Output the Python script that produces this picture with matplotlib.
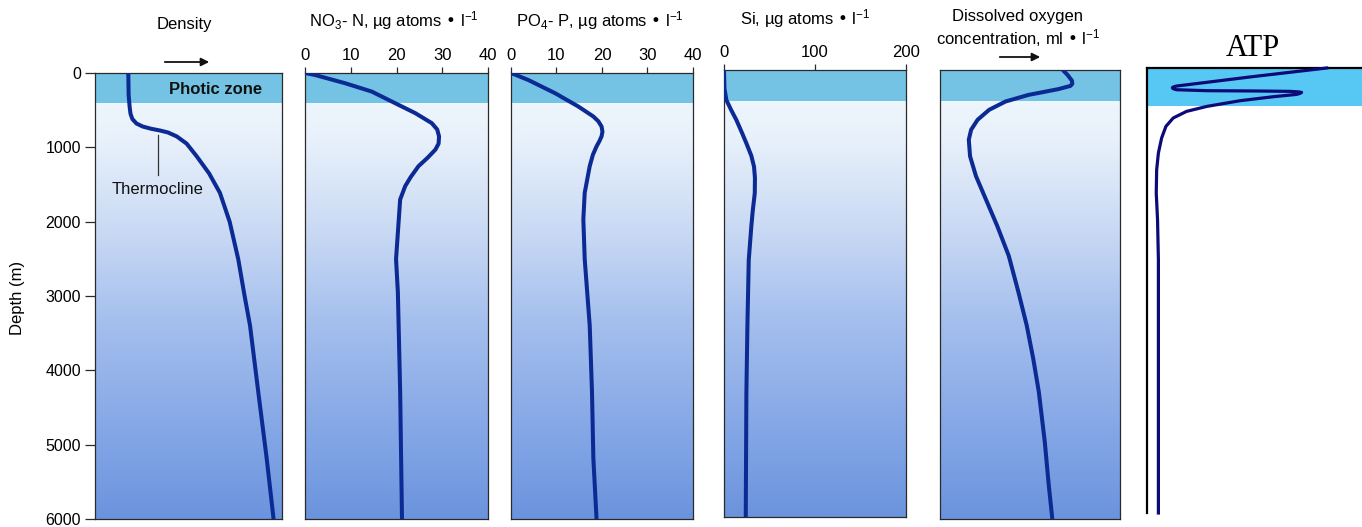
import numpy as np
import matplotlib
matplotlib.use("Agg")
import matplotlib.pyplot as plt
from matplotlib.colors import LinearSegmentedColormap

plt.rcParams['font.family'] = ['Liberation Sans', 'DejaVu Sans']
plt.rcParams['mathtext.default'] = 'regular'

# ---------------- data ----------------
depth_ticks = [0, 1000, 2000, 3000, 4000, 5000, 6000]
photic_depth = 410
photic_depth_atp = 518

density_depth = [0, 300, 450, 550, 620, 680, 720, 750, 775, 800, 853, 950, 1121, 1350, 1612,
                 2000, 2504, 3000, 3397, 4290, 5183, 6000]
density_val = [0.178, 0.18, 0.185, 0.19, 0.20, 0.222, 0.255, 0.30, 0.35, 0.39, 0.437, 0.49,
               0.544, 0.61, 0.668, 0.72, 0.766, 0.80, 0.829, 0.873, 0.918, 0.955]

no3_depth = [0, 27, 138, 250, 406, 540, 674, 760, 853, 950, 1031, 1140, 1254, 1400, 1522,
             1701, 2058, 2326, 2504, 2951, 4290, 6000]
no3_val = [0, 2.2, 8.8, 14.6, 19.7, 24.1, 27.7, 28.9, 29.3, 29.2, 28.5, 26.8, 24.8, 23.1,
           21.9, 20.8, 20.4, 20.1, 19.9, 20.3, 20.8, 21.2]

po4_depth = [0, 94, 272, 451, 585, 650, 719, 790, 853, 920, 987, 1100, 1254, 1612, 1969,
             2504, 3397, 4290, 5183, 6000]
po4_val = [0, 3.8, 9.7, 14.8, 18.1, 19.2, 19.9, 20.1, 19.9, 19.4, 18.8, 18.0, 17.3, 16.2,
           15.9, 16.2, 17.3, 17.8, 18.1, 18.8]

si_depth = [0, 250, 403, 540, 671, 850, 984, 1150, 1298, 1450, 1655, 1900, 2103, 2550,
            3445, 4340, 6000]
si_val = [0, 0.5, 2.6, 8, 13.6, 20, 24.6, 30, 33, 34, 33.8, 31.5, 30, 27.2, 25.7, 24.6, 23.9]

o2_depth = [0, 67, 142, 185, 213, 257, 333, 421, 532, 665, 798, 931, 1153, 1419, 1729, 2084,
            2483, 2971, 3415, 3858, 4301, 4966, 5543, 6000]
o2_val = [0.682, 0.709, 0.733, 0.735, 0.724, 0.655, 0.491, 0.364, 0.273, 0.209, 0.173, 0.16,
          0.167, 0.2, 0.255, 0.318, 0.382, 0.436, 0.482, 0.518, 0.549, 0.582, 0.604, 0.624]

atp_depth = [0, 121, 221, 243, 256, 266, 280, 293, 306, 310, 315, 322, 329, 342, 356, 387,
             441, 518, 585, 674, 787, 944, 1146, 1371, 1685, 2045, 2585, 6000]
atp_val = [0.836, 0.479, 0.200, 0.138, 0.122, 0.118, 0.122, 0.138, 0.278, 0.510, 0.665,
           0.705, 0.719, 0.712, 0.696, 0.588, 0.433, 0.278, 0.184, 0.122, 0.088, 0.068,
           0.053, 0.045, 0.043, 0.049, 0.053, 0.053]

no3_ticks = [0, 10, 20, 30, 40]
po4_ticks = [0, 10, 20, 30, 40]
si_ticks = [0, 100, 200]

# ---------------- style ----------------
W, H = 1362, 527
fig = plt.figure(figsize=(W / 100, H / 100), dpi=100)
fig.patch.set_facecolor('white')

photic_col = '#74c3e4'
curve_col = '#0c2a93'
frame_col = '#2a2a2a'
grad_cmap = LinearSegmentedColormap.from_list(
    'sea', [(0.0, '#f3f9fd'), (0.15, '#e8f1fb'), (0.35, '#cadaf4'),
            (0.55, '#a6c0ee'), (0.8, '#85a7e6'), (1.0, '#6b94de')])
grad = np.linspace(0, 1, 256).reshape(-1, 1)


def add_ax(x0, y0, x1, y1):
    return fig.add_axes([x0 / W, 1 - y1 / H, (x1 - x0) / W, (y1 - y0) / H])


def sea_panel(ax, xmax):
    ax.set_xlim(0, xmax)
    ax.set_ylim(6000, 0)
    ax.imshow(grad, extent=[0, xmax, 6000, 0], aspect='auto', cmap=grad_cmap,
              origin='upper', zorder=0, interpolation='bilinear')
    ax.axhspan(0, photic_depth, color=photic_col, zorder=1, lw=0)
    for s in ax.spines.values():
        s.set_color(frame_col)
        s.set_linewidth(0.9)
    ax.set_yticks([])
    ax.set_xticks([])


def curve(ax, x, y, **kw):
    ax.plot(x, y, color=curve_col, lw=2.9, solid_capstyle='butt',
            solid_joinstyle='round', zorder=3, **kw)


# Panel 1: density
ax1 = add_ax(95, 73, 282, 519)
sea_panel(ax1, 1)
curve(ax1, density_val, density_depth)
ax1.set_yticks(depth_ticks)
ax1.set_yticklabels([str(d) for d in depth_ticks], fontsize=11.5)
ax1.tick_params(axis='y', direction='out', length=7, width=0.9, pad=3, color=frame_col)
ax1.text(0.647, 228, 'Photic zone', fontsize=12, fontweight='bold', ha='center',
         va='center', color='#111111', zorder=4)
ax1.plot([0.337, 0.337], [830, 1366], color='#333333', lw=0.9, zorder=4)
ax1.text(0.333, 1567, 'Thermocline', fontsize=12, ha='center', va='center',
         color='#111111', zorder=4)
fig.text(18 / W, 1 - 298 / H, 'Depth (m)', rotation=90, fontsize=12, ha='center',
         va='center')

# Panel 2: NO3
ax2 = add_ax(305, 73, 488, 519)
sea_panel(ax2, 40)
curve(ax2, no3_val, no3_depth)

# Panel 3: PO4
ax3 = add_ax(511, 73, 693, 519)
sea_panel(ax3, 40)
curve(ax3, po4_val, po4_depth)

# Panel 4: Si
ax4 = add_ax(724, 70, 906, 517)
sea_panel(ax4, 200)
curve(ax4, si_val, si_depth)

for ax, ticks in ((ax2, no3_ticks), (ax3, po4_ticks), (ax4, si_ticks)):
    ax.xaxis.tick_top()
    ax.set_xticks(ticks)
    ax.set_xticklabels([str(t) for t in ticks], fontsize=12)
    ax.tick_params(axis='x', direction='out', length=4, width=0.9, pad=3, color=frame_col)

# Panel 5: oxygen
ax5 = add_ax(940, 70, 1120, 519)
sea_panel(ax5, 1)
curve(ax5, o2_val, o2_depth)

# Panel 6: ATP
ax6 = add_ax(1147, 68, 1362, 513)
ax6.set_xlim(0, 1)
ax6.set_ylim(6000, 0)
ax6.axhspan(0, photic_depth_atp, color='#56c8f3', lw=0, zorder=1)
ax6.plot(atp_val, atp_depth, color='#0d0a78', lw=2.3, solid_joinstyle='round', zorder=3,
         clip_on=False)
for side in ('right', 'bottom'):
    ax6.spines[side].set_visible(False)
ax6.spines['left'].set_linewidth(1.6)
ax6.spines['top'].set_linewidth(1.6)
ax6.spines['left'].set_color('black')
ax6.spines['top'].set_color('black')
ax6.set_xticks([])
ax6.set_yticks([])
ax6.set_facecolor('white')

# Titles
fig.text(184 / W, 1 - 24 / H, 'Density', fontsize=12, ha='center', va='center')
fig.text(394 / W, 1 - 21 / H, r'NO$_3$- N, µg atoms • l$^{-1}$', fontsize=12,
         ha='center', va='center')
fig.text(600 / W, 1 - 21 / H, r'PO$_4$- P, µg atoms • l$^{-1}$', fontsize=12,
         ha='center', va='center')
fig.text(805 / W, 1 - 19 / H, r'Si, µg atoms • l$^{-1}$', fontsize=12,
         ha='center', va='center')
fig.text(1018 / W, 1 - 17 / H, 'Dissolved oxygen', fontsize=12, ha='center', va='center')
fig.text(1018 / W, 1 - 38 / H, r'concentration, ml • l$^{-1}$', fontsize=12,
         ha='center', va='center')
fig.text(1253 / W, 1 - 48 / H, 'ATP', fontsize=22, ha='center', va='center',
         family=['Liberation Serif', 'DejaVu Serif'])

# Arrows
for (xa, xb, ya) in ((162, 212, 62), (997, 1043, 57)):
    fig.patches.append(matplotlib.patches.FancyArrowPatch(
        (xa / W, 1 - ya / H), (xb / W, 1 - ya / H), transform=fig.transFigure,
        arrowstyle='-|>', mutation_scale=12, lw=1.3, color='#111111'))

fig.savefig('out.png', dpi=100)
